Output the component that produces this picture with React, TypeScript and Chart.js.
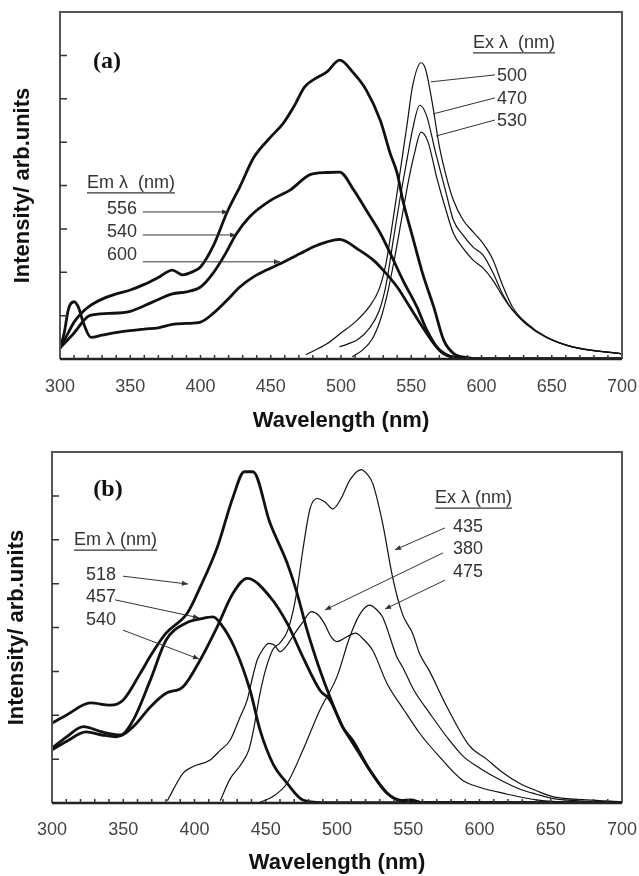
import React, { useEffect, useRef } from "react";
import { Chart, registerables } from "chart.js";
Chart.register(...registerables);

// ---------- Panel (a) data ----------
const aEm556X = [300, 305, 310, 315, 321, 330, 340, 350, 360, 370, 380, 387, 395, 400, 409, 419, 428, 438, 450, 459, 467, 474, 480, 490, 499, 509, 518, 528, 535, 540, 544, 551, 558, 566, 573, 580, 590, 600, 700];
const aEm556Y = [0.25, 0.55, 0.85, 1.05, 1.22, 1.38, 1.5, 1.59, 1.72, 1.88, 2.05, 1.94, 2.02, 2.12, 2.6, 3.39, 3.97, 4.65, 5.12, 5.44, 5.85, 6.27, 6.43, 6.62, 6.89, 6.59, 6.2, 5.5, 4.74, 4.28, 3.66, 2.81, 1.98, 1.2, 0.44, 0.13, 0.03, 0, 0];
const aEm540X = [300, 310, 321, 335, 350, 365, 380, 390, 400, 409, 418, 425, 435, 450, 464, 478, 490, 499, 509, 518, 528, 535, 544, 554, 561, 570, 580, 600, 700];
const aEm540Y = [0.25, 0.6, 1.0, 1.05, 1.1, 1.3, 1.5, 1.55, 1.66, 1.98, 2.44, 2.86, 3.28, 3.66, 3.9, 4.25, 4.3, 4.31, 3.9, 3.43, 2.9, 2.44, 1.82, 1.2, 0.67, 0.2, 0.04, 0, 0];
const aEm600X = [300, 303, 306, 310, 313, 317, 322, 330, 344, 360, 370, 380, 390, 400, 409, 419, 428, 438, 447, 457, 471, 480, 490, 499, 513, 523, 530, 540, 549, 558, 568, 575, 585, 600, 700];
const aEm600Y = [0.25, 0.6, 1.15, 1.32, 1.2, 0.8, 0.5, 0.55, 0.63, 0.69, 0.72, 0.8, 0.82, 0.85, 1.05, 1.36, 1.66, 1.9, 2.05, 2.2, 2.43, 2.58, 2.7, 2.76, 2.51, 2.28, 2.05, 1.66, 1.2, 0.74, 0.28, 0.1, 0.02, 0, 0];
const aEx500X = [475, 490, 500, 510, 520, 527, 532, 537, 542, 547, 551, 557, 560, 565, 570, 575, 580, 587, 594, 601, 608, 615, 622, 632, 646, 665, 700];
const aEx500Y = [0.1, 0.35, 0.6, 0.85, 1.2, 1.6, 2.2, 3.2, 4.3, 5.4, 6.3, 6.83, 6.7, 5.9, 4.9, 4.2, 3.66, 3.2, 2.93, 2.67, 2.3, 1.7, 1.2, 0.83, 0.51, 0.28, 0.12];
const aEx470X = [499, 505, 512, 520, 527, 532, 537, 542, 547, 551, 556, 561, 567, 575, 580, 587, 594, 601, 608, 615, 622, 632, 646, 665, 700];
const aEx470Y = [0.28, 0.35, 0.45, 0.7, 1.1, 1.7, 2.7, 3.7, 4.6, 5.3, 5.85, 5.6, 4.8, 3.8, 3.2, 2.85, 2.58, 2.4, 2.0, 1.5, 1.13, 0.8, 0.5, 0.28, 0.12];
const aEx530X = [508, 515, 522, 528, 533, 538, 543, 548, 552, 557, 562, 568, 575, 580, 587, 594, 601, 608, 615, 622, 632, 646, 665, 700];
const aEx530Y = [0.05, 0.2, 0.45, 0.9, 1.5, 2.3, 3.2, 4.1, 4.7, 5.23, 5.0, 4.2, 3.4, 2.9, 2.55, 2.28, 2.1, 1.82, 1.45, 1.13, 0.8, 0.5, 0.27, 0.12];

// ---------- Panel (b) data ----------
const bEm518X = [300, 310, 327, 341, 350, 362, 370, 380, 395, 404, 416, 427, 435, 441, 453, 465, 472, 479, 488, 495, 504, 511, 523, 535, 545, 552, 560, 700];
const bEm518Y = [1.82, 2.0, 2.28, 2.23, 2.35, 2.96, 3.4, 3.87, 4.33, 4.92, 5.83, 6.97, 7.55, 7.55, 6.38, 5.47, 4.78, 3.94, 3.03, 2.42, 1.73, 1.43, 0.75, 0.23, 0.06, 0.07, 0.01, 0];
const bEm457X = [300, 310, 322, 335, 348, 357, 369, 380, 394, 405, 413, 418, 428, 439, 446, 455, 465, 476, 490, 700];
const bEm457Y = [1.25, 1.5, 1.74, 1.62, 1.55, 1.89, 2.8, 3.71, 4.1, 4.2, 4.24, 4.1, 3.55, 2.57, 1.66, 0.9, 0.45, 0.07, 0.01, 0];
const bEm540X = [300, 310, 324, 335, 345, 357, 369, 380, 392, 404, 416, 427, 437, 453, 465, 476, 488, 495, 504, 511, 523, 535, 545, 552, 560, 700];
const bEm540Y = [1.21, 1.4, 1.62, 1.55, 1.51, 1.74, 2.19, 2.5, 2.65, 3.26, 4.02, 4.78, 5.12, 4.7, 4.1, 3.33, 2.57, 2.35, 1.73, 1.37, 0.75, 0.23, 0.06, 0.05, 0.01, 0];
const bEx435X = [418, 425, 432, 438, 441, 446, 450, 455, 460, 465, 469, 472, 476, 481, 486, 492, 497, 503, 509, 517, 521, 525, 532, 539, 546, 553, 558, 565, 577, 593, 605, 616, 628, 640, 652, 675, 700];
const bEx435Y = [0.05, 0.55, 0.85, 1.2, 1.6, 2.5, 3.05, 3.5, 3.65, 3.9, 4.35, 4.85, 5.76, 6.7, 6.94, 6.85, 6.7, 6.95, 7.36, 7.6, 7.5, 7.29, 6.38, 5.15, 4.3, 3.87, 3.4, 3.0, 2.2, 1.3, 1.0, 0.7, 0.45, 0.28, 0.14, 0.07, 0.03];
const bEx380X = [381, 385, 392, 399, 411, 418, 425, 432, 437, 441, 444, 448, 452, 456, 460, 465, 470, 476, 482, 487, 491, 496, 500, 507, 513, 518, 525, 535, 547, 558, 572, 588, 600, 617, 640, 660, 700];
const bEx380Y = [0.05, 0.3, 0.68, 0.83, 0.98, 1.2, 1.43, 1.96, 2.35, 2.9, 3.26, 3.5, 3.64, 3.6, 3.45, 3.6, 3.85, 4.12, 4.36, 4.28, 4.1, 3.78, 3.68, 3.79, 3.87, 3.75, 3.48, 2.73, 2.12, 1.59, 1.05, 0.52, 0.36, 0.22, 0.07, 0.02, 0];
const bEx475X = [446, 455, 465, 476, 488, 500, 509, 516, 523, 528, 532, 542, 546, 554, 565, 577, 589, 600, 616, 628, 640, 652, 675, 700];
const bEx475Y = [0.02, 0.15, 0.45, 1.2, 2.12, 2.88, 3.79, 4.3, 4.51, 4.4, 4.24, 3.33, 3.1, 2.57, 2.05, 1.51, 1.05, 0.8, 0.5, 0.32, 0.2, 0.1, 0.04, 0.01];

// ---------- axes ----------
const xTickValues = [300, 350, 400, 450, 500, 550, 600, 650, 700];
const xTitle = "Wavelength (nm)";
const yTitle = "Intensity/ arb.units";

const SANS = '"Liberation Sans", Arial, Helvetica, sans-serif';
const SERIF = '"Liberation Serif", "Times New Roman", serif';

type Label = { text: string; x: number; y: number; align?: CanvasTextAlign; underline?: boolean };
type Arrow = { from: [number, number]; to: [number, number]; head: boolean };

const panels = [
  {
    key: "a",
    tag: "(a)",
    tagPos: [333.5, 6.85],
    top: 12,
    yw: 60,
    xh: 79,
    tickPad: 17,
    yTitleOff: 37,
    xTitleOff: 62,
    series: [
      { x: aEm556X, y: aEm556Y, thick: true },
      { x: aEm540X, y: aEm540Y, thick: true },
      { x: aEm600X, y: aEm600Y, thick: true },
      { x: aEx500X, y: aEx500Y, thick: false },
      { x: aEx470X, y: aEx470Y, thick: false },
      { x: aEx530X, y: aEx530Y, thick: false },
    ],
    labels: [
      { text: "Em \u03bb  (nm)", x: 319.2, y: 4.06, underline: true },
      { text: "556", x: 354.8, y: 3.46, align: "right" },
      { text: "540", x: 354.8, y: 2.93, align: "right" },
      { text: "600", x: 354.8, y: 2.4, align: "right" },
      { text: "Ex \u03bb  (nm)", x: 594, y: 7.29, underline: true },
      { text: "500", x: 611, y: 6.52 },
      { text: "470", x: 611, y: 5.99 },
      { text: "530", x: 611, y: 5.49 },
    ] as Label[],
    arrows: [
      { from: [359, 3.39], to: [419.6, 3.39], head: true },
      { from: [359, 2.86], to: [425.3, 2.86], head: true },
      { from: [359, 2.24], to: [456.6, 2.24], head: true },
      { from: [609.6, 6.55], to: [564, 6.39], head: false },
      { from: [609.6, 6.02], to: [565.5, 5.65], head: false },
      { from: [609.6, 5.51], to: [567.6, 5.14], head: false },
    ] as Arrow[],
  },
  {
    key: "b",
    tag: "(b)",
    tagPos: [339.3, 7.13],
    top: 14,
    yw: 52,
    xh: 73,
    tickPad: 16,
    yTitleOff: 35,
    xTitleOff: 60,
    series: [
      { x: bEm518X, y: bEm518Y, thick: true },
      { x: bEm457X, y: bEm457Y, thick: true },
      { x: bEm540X, y: bEm540Y, thick: true },
      { x: bEx435X, y: bEx435Y, thick: false },
      { x: bEx380X, y: bEx380Y, thick: false },
      { x: bEx475X, y: bEx475Y, thick: false },
    ],
    labels: [
      { text: "Em \u03bb (nm)", x: 315.4, y: 5.99, underline: true },
      { text: "518", x: 323.9, y: 5.2 },
      { text: "457", x: 323.9, y: 4.7 },
      { text: "540", x: 323.9, y: 4.17 },
      { text: "Ex \u03bb (nm)", x: 568.8, y: 6.95, underline: true },
      { text: "435", x: 581.4, y: 6.29 },
      { text: "380", x: 581.4, y: 5.79 },
      { text: "475", x: 581.4, y: 5.26 },
    ] as Label[],
    arrows: [
      { from: [349.8, 5.17], to: [395.4, 4.99], head: true },
      { from: [344.2, 4.63], to: [403.2, 4.22], head: true },
      { from: [349.8, 3.94], to: [403.2, 3.28], head: true },
      { from: [575.8, 6.27], to: [540.7, 5.77], head: true },
      { from: [574.4, 5.7], to: [491.6, 4.4], head: true },
      { from: [575.8, 5.08], to: [533.7, 4.42], head: true },
    ] as Arrow[],
  },
];

function makeDecor(p: any) {
  return {
    id: "decor_" + p.key,
    afterDatasetsDraw(chart: any) {
      const { ctx, chartArea: ca, scales } = chart;
      const sx = scales.x, sy = scales.y;
      const X = (v: number) => sx.getPixelForValue(v);
      const Y = (v: number) => sy.getPixelForValue(v);
      ctx.save();
      // frame
      ctx.strokeStyle = "#555";
      ctx.lineWidth = 2;
      ctx.beginPath();
      ctx.moveTo(ca.left, ca.bottom);
      ctx.lineTo(ca.left, ca.top);
      ctx.lineTo(ca.right, ca.top);
      ctx.lineTo(ca.right, ca.bottom);
      ctx.stroke();
      ctx.strokeStyle = "#222";
      ctx.lineWidth = 2.5;
      ctx.beginPath();
      ctx.moveTo(ca.left, ca.bottom);
      ctx.lineTo(ca.right, ca.bottom);
      ctx.stroke();
      // inward ticks
      ctx.strokeStyle = "#333";
      ctx.lineWidth = 1.5;
      ctx.beginPath();
      for (let v = 310; v < 700; v += 10) {
        const px = X(v);
        ctx.moveTo(px, ca.bottom);
        ctx.lineTo(px, ca.bottom - 4);
      }
      for (let v = 1; v < 8; v++) {
        const py = Y(v);
        ctx.moveTo(ca.left, py);
        ctx.lineTo(ca.left + 7, py);
      }
      ctx.stroke();
      // arrows
      ctx.strokeStyle = "#333";
      ctx.fillStyle = "#333";
      ctx.lineWidth = 1;
      for (const a of p.arrows as Arrow[]) {
        const x1 = X(a.from[0]), y1 = Y(a.from[1]);
        const x2 = X(a.to[0]), y2 = Y(a.to[1]);
        ctx.beginPath();
        ctx.moveTo(x1, y1);
        ctx.lineTo(x2, y2);
        ctx.stroke();
        if (a.head) {
          const ang = Math.atan2(y2 - y1, x2 - x1);
          const L = 6, W = 2.5;
          ctx.beginPath();
          ctx.moveTo(x2, y2);
          ctx.lineTo(x2 - L * Math.cos(ang) + W * Math.sin(ang), y2 - L * Math.sin(ang) - W * Math.cos(ang));
          ctx.lineTo(x2 - L * Math.cos(ang) - W * Math.sin(ang), y2 - L * Math.sin(ang) + W * Math.cos(ang));
          ctx.closePath();
          ctx.fill();
        }
      }
      // labels
      ctx.font = `18px ${SANS}`;
      ctx.fillStyle = "#333";
      ctx.textBaseline = "middle";
      for (const l of p.labels as Label[]) {
        ctx.textAlign = l.align || "left";
        const px = X(l.x), py = Y(l.y);
        ctx.fillText(l.text, px, py);
        if (l.underline) {
          const w = ctx.measureText(l.text).width;
          ctx.strokeStyle = "#333";
          ctx.lineWidth = 1.3;
          ctx.beginPath();
          ctx.moveTo(px, py + 10);
          ctx.lineTo(px + w, py + 10);
          ctx.stroke();
        }
      }
      // panel tag
      ctx.font = `bold 24px ${SERIF}`;
      ctx.fillStyle = "#111";
      ctx.textAlign = "center";
      ctx.fillText(p.tag, X(p.tagPos[0]), Y(p.tagPos[1]));
      // axis titles
      ctx.font = `bold 22px ${SANS}`;
      ctx.fillStyle = "#111";
      ctx.textAlign = "center";
      ctx.fillText(xTitle, (ca.left + ca.right) / 2, ca.bottom + p.xTitleOff);
      ctx.save();
      ctx.translate(ca.left - p.yTitleOff, (ca.top + ca.bottom) / 2);
      ctx.rotate(-Math.PI / 2);
      ctx.fillText(yTitle, 0, 0);
      ctx.restore();
      ctx.restore();
    },
  };
}

function Panel({ p, top }: { p: any; top: number }) {
  const ref = useRef<HTMLCanvasElement>(null);
  useEffect(() => {
    if (!ref.current) return;
    const chart = new Chart(ref.current, {
      type: "scatter",
      data: {
        datasets: p.series.map((s: any) => ({
          data: s.x.map((v: number, i: number) => ({ x: v, y: s.y[i] })),
          showLine: true,
          borderColor: "#111",
          borderWidth: s.thick ? 2.8 : 1.2,
          pointRadius: 0,
          cubicInterpolationMode: "monotone",
          fill: false,
        })),
      },
      options: {
        responsive: false,
        animation: false,
        devicePixelRatio: 1,
        layout: { padding: { top: p.top, right: 17, left: 0, bottom: 0 } },
        plugins: { legend: { display: false }, tooltip: { enabled: false } },
        scales: {
          x: {
            type: "linear",
            min: 300,
            max: 700,
            afterBuildTicks: (s: any) => {
              s.ticks = xTickValues.map((v) => ({ value: v }));
            },
            ticks: {
              font: { family: SANS, size: 18 },
              color: "#444",
              padding: p.tickPad,
              maxRotation: 0,
              autoSkip: false,
            },
            grid: { display: false, drawTicks: false },
            border: { display: false },
            afterFit: (s: any) => {
              s.height = p.xh;
              s.paddingLeft = 0;
              s.paddingRight = 0;
            },
          },
          y: {
            type: "linear",
            min: 0,
            max: 8,
            ticks: { display: false },
            grid: { display: false, drawTicks: false },
            border: { display: false },
            afterFit: (s: any) => {
              s.width = p.yw;
            },
          },
        },
      } as any,
      plugins: [makeDecor(p)],
    });
    return () => chart.destroy();
  }, [p]);
  return (
    <canvas
      ref={ref}
      width={639}
      height={438}
      style={{ position: "absolute", left: 0, top, width: 639, height: 438 }}
    />
  );
}

export default function App() {
  return (
    <div style={{ position: "fixed", left: 0, top: 0, width: 639, height: 876, background: "#fff" }}>
      <Panel p={panels[0]} top={0} />
      <Panel p={panels[1]} top={438} />
    </div>
  );
}
